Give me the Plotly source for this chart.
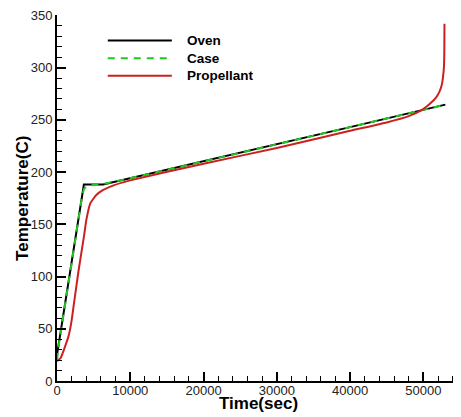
import plotly.graph_objects as go

# ---- data ----
oven_time = [0, 3670, 6300, 10000, 20000, 30000, 40000, 53000]
oven_temp = [25, 188, 188, 194, 210, 226.5, 243, 264.5]

case_time = [0, 300, 3450, 3700, 4000, 4500, 5500, 6300, 10000, 20000, 30000, 40000, 53000]
case_temp = [20, 37, 178, 184, 186, 187.3, 188, 188.5, 194, 210, 226.5, 243, 264.5]

prop_time = [0, 500, 1000, 1580, 2000, 2310, 2950, 3670, 4000, 4540, 5360, 6260, 7630,
             10000, 20000, 30000, 40000, 45000, 48000, 49700, 50400, 51000, 51750,
             52200, 52500, 52700, 52820, 52860, 52880]
prop_temp = [19, 22, 31, 43, 58, 74, 106, 138, 154, 170, 178, 182.6, 187,
             192, 208, 223, 239.5, 247.5, 253.5, 259, 262.5, 266, 271.5,
             277, 283, 292, 302, 315, 342]

series_names = ["Oven", "Case", "Propellant"]
x_ticks = [0, 10000, 20000, 30000, 40000, 50000]
y_ticks = [0, 50, 100, 150, 200, 250, 300, 350]

# ---- styles ----
colors = ["#000000", "#1fc81f", "#cc2020"]
dashes = ["solid", "7px,6px", "solid"]
FONT = "Liberation Sans, Arial, sans-serif"

fig = go.Figure()
for name, t, v, c, d in zip(series_names,
                            [oven_time, case_time, prop_time],
                            [oven_temp, case_temp, prop_temp],
                            colors, dashes):
    line = dict(color=c, width=2, dash=d)
    if name == "Propellant":
        line.update(shape="spline", smoothing=0.4)
    fig.add_trace(go.Scatter(x=t, y=v, mode="lines", name=name, line=line, showlegend=False))

# manual legend (long line samples like the reference)
leg_y = [0.930, 0.882, 0.834]
for name, c, d, yy in zip(series_names, colors, dashes, leg_y):
    fig.add_shape(type="line", xref="paper", yref="paper", x0=0.126, x1=0.285, y0=yy, y1=yy,
                  line=dict(color=c, width=2, dash=d))
    fig.add_annotation(xref="paper", yref="paper", x=0.317, y=yy, text="<b>%s</b>" % name,
                       showarrow=False, xanchor="left", yanchor="middle",
                       font=dict(family=FONT, size=13.5, color="black"))

# axis titles
fig.add_annotation(xref="paper", yref="paper", x=0.5, y=-0.061, text="<b>Time(sec)</b>",
                   showarrow=False, xanchor="center", yanchor="middle",
                   font=dict(family=FONT, size=17, color="black"))
fig.add_annotation(xref="paper", yref="paper", x=-0.087, y=0.5, text="<b>Temperature(C)</b>",
                   showarrow=False, xanchor="center", yanchor="middle", textangle=-90,
                   font=dict(family=FONT, size=17, color="black"))

axis_common = dict(showline=True, linecolor="black", linewidth=2, showgrid=False, zeroline=False,
                   ticks="inside", ticklen=9, tickwidth=2, tickcolor="black",
                   tickfont=dict(family=FONT, size=13, color="#222"), mirror=False,
                   automargin=False, ticklabeloverflow="allow")

fig.update_layout(
    width=453, height=409,
    margin=dict(l=49, r=1, t=7, b=36),
    paper_bgcolor="white", plot_bgcolor="white",
    showlegend=False,
    xaxis=dict(range=[0, 55000], tickvals=x_ticks, ticktext=[str(v) for v in x_ticks],
               minor=dict(ticks="inside", dtick=2000, ticklen=5, tickwidth=1, tickcolor="black"),
               ticklabelstandoff=-4,
               **axis_common),
    yaxis=dict(range=[0, 350.3], tickvals=y_ticks, ticktext=[str(v) for v in y_ticks],
               minor=dict(ticks="inside", dtick=10, ticklen=5, tickwidth=1, tickcolor="black"),
               **axis_common),
)

fig.write_html("out.html")
